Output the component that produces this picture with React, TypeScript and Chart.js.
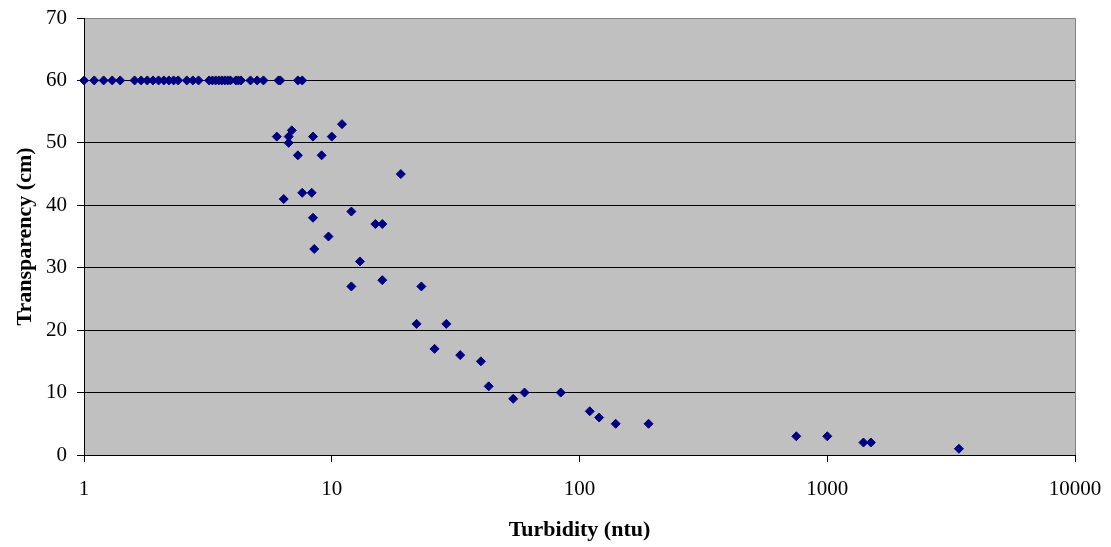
import { useEffect, useRef } from "react";
import { Chart, registerables } from "chart.js";

Chart.register(...registerables);

// Turbidity readings (ntu) and the matching Secchi-tube transparency (cm)
const turbidityNtu = [
  1, 1.1, 1.2, 1.3, 1.4, 1.6, 1.7, 1.8, 1.9, 2.0, 2.1, 2.2, 2.3, 2.4, 2.6, 2.75, 2.9,
  3.2, 3.3, 3.4, 3.5, 3.6, 3.7, 3.8, 3.9, 4.1, 4.2, 4.3, 4.7, 5.0, 5.3, 6.1, 6.2, 7.3, 7.6,
  6.0, 6.9, 6.7, 6.7, 8.4, 10, 11, 7.3, 9.1, 19, 6.4, 7.6, 8.3, 8.4, 12, 15, 16, 9.7, 8.5,
  13, 12, 16, 23, 22, 29, 26, 33, 40, 43, 54, 60, 84, 110, 120, 140, 190, 750, 1000, 1400,
  1500, 3400,
];
const transparencyCm = [
  60, 60, 60, 60, 60, 60, 60, 60, 60, 60, 60, 60, 60, 60, 60, 60, 60,
  60, 60, 60, 60, 60, 60, 60, 60, 60, 60, 60, 60, 60, 60, 60, 60, 60, 60,
  51, 52, 51, 50, 51, 51, 53, 48, 48, 45, 41, 42, 42, 38, 39, 37, 37, 35, 33,
  31, 27, 28, 27, 21, 21, 17, 16, 15, 11, 9, 10, 10, 7, 6, 5, 5, 3, 3, 2,
  2, 1,
];

const xTickValues = [1, 10, 100, 1000, 10000];
const yTickValues = [0, 10, 20, 30, 40, 50, 60, 70];

const serif = "'Liberation Serif', 'Times New Roman', serif";

// Grey plot background with a thin frame on the top and right edges
const plotFrame = {
  id: "plotFrame",
  beforeDraw(chart: any) {
    const { ctx, chartArea: a } = chart;
    ctx.save();
    ctx.fillStyle = "#C0C0C0";
    ctx.fillRect(a.left, a.top, a.right - a.left, a.bottom - a.top);
    ctx.strokeStyle = "#808080";
    ctx.lineWidth = 1;
    const r = Math.round(a.right) + 0.5;
    const t = Math.round(a.top) + 0.5;
    ctx.beginPath();
    ctx.moveTo(a.left, t);
    ctx.lineTo(r, t);
    ctx.lineTo(r, a.bottom);
    ctx.stroke();
    ctx.restore();
  },
};

export default function App() {
  const canvasRef = useRef<HTMLCanvasElement | null>(null);

  useEffect(() => {
    const canvas = canvasRef.current;
    if (!canvas) return;
    const points = turbidityNtu.map((x, i) => ({ x, y: transparencyCm[i] }));

    const chart = new Chart(canvas, {
      type: "scatter",
      data: {
        datasets: [
          {
            data: points,
            pointStyle: "rectRot",
            pointRadius: 4.5,
            pointHoverRadius: 4.5,
            backgroundColor: "#000080",
            borderColor: "#000080",
            borderWidth: 1,
            clip: false,
          } as any,
        ],
      },
      options: {
        responsive: false,
        animation: false,
        devicePixelRatio: 1,
        layout: { padding: { top: 18, right: 36, bottom: 0, left: 0 } },
        plugins: {
          legend: { display: false },
          tooltip: { enabled: false },
        },
        scales: {
          x: {
            type: "logarithmic",
            min: 1,
            max: 10000,
            afterBuildTicks: (scale: any) => {
              scale.ticks = xTickValues.map((value) => ({ value }));
            },
            afterFit: (scale: any) => {
              scale.height = 92;
              scale.paddingLeft = 0;
              scale.paddingRight = 0;
            },
            grid: {
              drawOnChartArea: false,
              drawTicks: true,
              tickLength: 7,
              tickColor: "#000000",
            },
            border: { color: "#000000", width: 1 },
            ticks: {
              autoSkip: false,
              maxRotation: 0,
              padding: 15,
              color: "#000000",
              font: { family: serif, size: 21 },
              callback: (v: any) => String(v),
            },
            title: {
              display: true,
              text: "Turbidity (ntu)",
              color: "#000000",
              font: { family: serif, size: 22, weight: "bold" },
              padding: { top: 0, bottom: 3 },
            },
          },
          y: {
            type: "linear",
            min: 0,
            max: 70,
            afterBuildTicks: (scale: any) => {
              scale.ticks = yTickValues.map((value) => ({ value }));
            },
            afterFit: (scale: any) => {
              scale.width = 84;
              scale.paddingTop = 0;
              scale.paddingBottom = 0;
            },
            grid: {
              color: (ctx: any) => (ctx.tick && ctx.tick.value === 70 ? "#808080" : "#000000"),
              tickColor: "#000000",
              tickLength: 7,
              lineWidth: 1,
            },
            border: { color: "#000000", width: 1 },
            ticks: {
              padding: 10,
              color: "#000000",
              font: { family: serif, size: 21 },
            },
            title: {
              display: true,
              text: "Transparency (cm)",
              color: "#000000",
              font: { family: serif, size: 22, weight: "bold" },
              padding: { top: 12, bottom: 0 },
            },
          },
        },
      },
      plugins: [plotFrame],
    });

    return () => chart.destroy();
  }, []);

  return (
    <div style={{ position: "absolute", left: 0, top: 0, width: 1111, height: 547, background: "#ffffff" }}>
      <canvas ref={canvasRef} width={1111} height={547} />
    </div>
  );
}
